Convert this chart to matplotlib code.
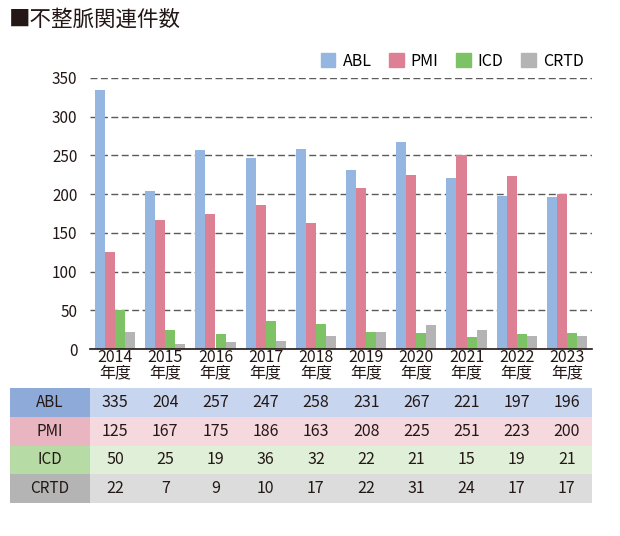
import numpy as np
import matplotlib
matplotlib.use("Agg")
import matplotlib.pyplot as plt
from matplotlib.patches import Rectangle, Patch

plt.rcParams['font.family'] = ['Noto Sans CJK JP', 'DejaVu Sans']

# データ
years = ['2014', '2015', '2016', '2017', '2018', '2019', '2020', '2021', '2022', '2023']
series = ['ABL', 'PMI', 'ICD', 'CRTD']
abl = [335, 204, 257, 247, 258, 231, 267, 221, 197, 196]
pmi = [125, 167, 175, 186, 163, 208, 225, 251, 223, 200]
icd = [50, 25, 19, 36, 32, 22, 21, 15, 19, 21]
crtd = [22, 7, 9, 10, 17, 22, 31, 24, 17, 17]
yticks = [0, 50, 100, 150, 200, 250, 300, 350]

bar_colors = ['#95b6e0', '#de8093', '#7dc264', '#b4b4b4']
head_colors = ['#8eaad8', '#e8b5c0', '#b7dba5', '#b4b4b4']
row_colors = ['#c8d5ee', '#f5d9de', '#e0efd7', '#dcdcdc']

W, H = 620, 536
fig = plt.figure(figsize=(6.2, 5.36), dpi=100)

# グラフ
ax = fig.add_axes([90 / W, 1 - 349 / H, 502 / W, (349 - 78) / H])
x = np.arange(len(years))
bw = 0.2
vals = [abl, pmi, icd, crtd]
for i, v in enumerate(vals):
    ax.bar(x + (i - 1.5) * bw, v, bw, color=bar_colors[i], label=series[i], zorder=3)

ax.set_xlim(-0.5, 9.5)
ax.set_ylim(0, 350)
ax.set_yticks(yticks)
ax.set_xticks(x)
ax.set_xticklabels([y + '\n年度' for y in years], fontsize=11.5, linespacing=0.9)
ax.tick_params(axis='x', length=0, pad=0, colors='#231815')
ax.tick_params(axis='y', length=0, pad=9, labelsize=11, colors='#231815')
ax.yaxis.grid(True, linestyle=(0, (5, 2.5)), color='#5a5a5a', linewidth=1)
ax.set_axisbelow(True)
for s in ['top', 'right', 'left']:
    ax.spines[s].set_visible(False)
ax.spines['bottom'].set_color('#231815')
ax.spines['bottom'].set_linewidth(1.2)
ax.spines['bottom'].set_zorder(4)

# 凡例
handles = [Patch(color=c, label=s) for c, s in zip(bar_colors, series)]
fig.legend(handles=handles, ncol=4, frameon=False, loc='center right',
           bbox_to_anchor=(598 / W, 1 - 61 / H), fontsize=11.5,
           handlelength=0.9, handleheight=0.9, handletextpad=0.45, columnspacing=1.1)

# タイトル
fig.text(9 / W, 1 - 20 / H, '■不整脈関連件数', fontsize=15.5, va='center', ha='left', color='#231815')

# 表
tb = fig.add_axes([10 / W, 1 - 503 / H, 582 / W, (503 - 388) / H])
left = -0.5 - 80 / 50.2
tb.set_xlim(left, 9.5)
tb.set_ylim(4, 0)
tb.axis('off')
for r, name in enumerate(series):
    tb.add_patch(Rectangle((left, r), -0.5 - left, 1, color=head_colors[r], lw=0))
    tb.add_patch(Rectangle((-0.5, r), 10, 1, color=row_colors[r], lw=0))
    tb.text((left - 0.5) / 2, r + 0.5, name, ha='center', va='center', fontsize=11, color='#231815')
    for j, v in enumerate(vals[r]):
        tb.text(j, r + 0.5, str(v), ha='center', va='center', fontsize=11.5, color='#231815')

fig.savefig('out.png', dpi=100)
